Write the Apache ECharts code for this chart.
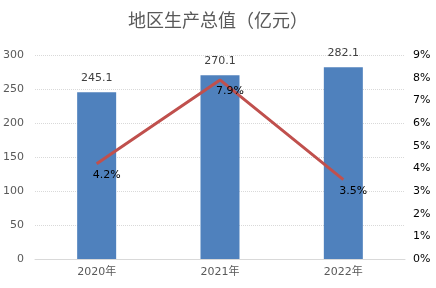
<!DOCTYPE html>
<html>
<head>
<meta charset="UTF-8">
<title>地区生产总值</title>
<script src="https://cdn.jsdelivr.net/npm/echarts@6/dist/echarts.min.js"></script>
</head>
<body style="margin:0">
	<div id="main" style="width: 436px; height: 288px;"></div>

	<script type="text/javascript">
		// 数据
		var years = [ '2020年', '2021年', '2022年' ];
		var gdp = [ 245.1, 270.1, 282.1 ];
		var growth = [ 4.2, 7.9, 3.5 ];

		var myChart = echarts.init(document.getElementById('main'));
		myChart.setOption({
			animation : false,
			textStyle : {
				fontFamily : 'DejaVu Sans, Noto Sans CJK SC, sans-serif'
			},
			title : {
				text : '地区生产总值（亿元）',
				left : 'center',
				top : 6,
				textStyle : {
					fontFamily : 'Noto Sans CJK SC',
					fontSize : 18,
					fontWeight : 'normal',
					color : '#595959'
				}
			},
			grid : {
				left : 32,
				right : 31,
				top : 55,
				bottom : 29
			},
			xAxis : {
				type : 'category',
				data : years,
				axisTick : { show : false },
				axisLine : { lineStyle : { color : '#d9d9d9', width : 1 } },
				axisLabel : { color : '#595959', fontSize : 11, margin : 8 }
			},
			yAxis : [ {
				type : 'value',
				min : 0,
				max : 300,
				interval : 50,
				axisLabel : { color : '#595959', fontSize : 11, margin : 11 },
				splitLine : { lineStyle : { color : '#d9d9d9', type : 'dotted' } }
			}, {
				type : 'value',
				min : 0,
				max : 9,
				interval : 1,
				axisLabel : { color : '#000', fontSize : 11, margin : 8, formatter : '{value}%' },
				splitLine : { show : false }
			} ],
			series : [ {
				name : '地区生产总值',
				type : 'bar',
				data : gdp,
				barWidth : 39,
				itemStyle : { color : '#4f81bd' },
				label : {
					show : true,
					position : 'top',
					distance : 9,
					color : '#404040',
					fontSize : 11
				}
			}, {
				name : '增速',
				type : 'line',
				yAxisIndex : 1,
				data : growth,
				symbol : 'circle',
				symbolSize : 1,
				itemStyle : { color : 'rgba(0,0,0,0)' },
				lineStyle : { color : '#c0504d', width : 3 },
				label : {
					show : true,
					position : 'bottom',
					distance : 5,
					offset : [ 10, 0 ],
					color : '#000',
					fontSize : 11,
					formatter : '{c}%'
				}
			} ]
		});
	</script>
</body>
</html>
